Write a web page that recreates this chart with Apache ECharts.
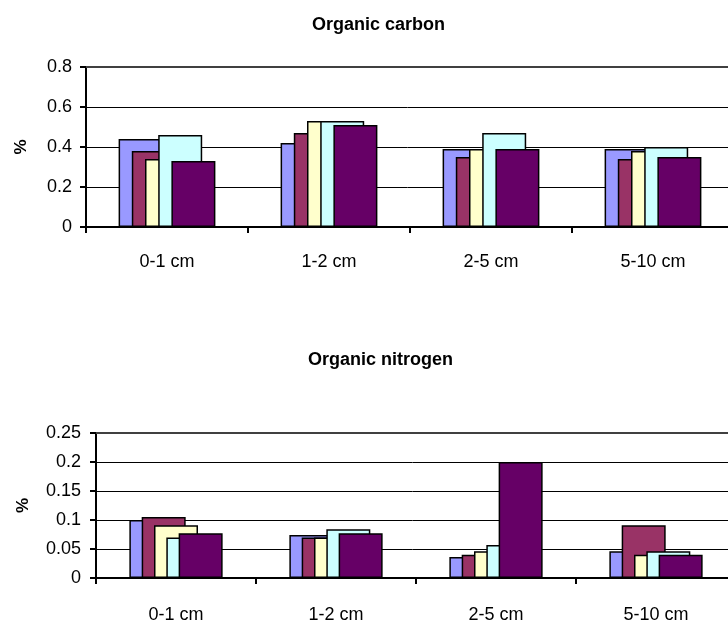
<!DOCTYPE html>
<html>
<head>
<meta charset="utf-8">
<script src="https://cdn.jsdelivr.net/npm/echarts@6/dist/echarts.min.js"></script>
<style>
  html, body { margin: 0; padding: 0; background: #ffffff; }
  #chart { width: 728px; height: 625px; }
</style>
</head>
<body>
<div id="chart"></div>
<script>
// Sediment depth intervals
const depths = ['0-1 cm', '1-2 cm', '2-5 cm', '5-10 cm'];

// Organic carbon (%) per sample, one array per series
const carbonS1 = [0.44, 0.42, 0.39, 0.39];
const carbonS2 = [0.38, 0.47, 0.35, 0.34];
const carbonS3 = [0.34, 0.53, 0.39, 0.38];
const carbonS4 = [0.46, 0.53, 0.47, 0.40];
const carbonS5 = [0.33, 0.51, 0.39, 0.35];

// Organic nitrogen (%) per sample
const nitrogenS1 = [0.100, 0.074, 0.036, 0.046];
const nitrogenS2 = [0.105, 0.070, 0.040, 0.091];
const nitrogenS3 = [0.091, 0.070, 0.046, 0.040];
const nitrogenS4 = [0.070, 0.084, 0.057, 0.046];
const nitrogenS5 = [0.077, 0.077, 0.200, 0.040];

const palette = ['#9999FF', '#993366', '#FFFFCC', '#CCFFFF', '#660066'];
const FONT = '"Liberation Sans", Arial, sans-serif';

function barSeries(values, idx, axisIdx, gap) {
  return {
    type: 'bar',
    xAxisIndex: axisIdx,
    yAxisIndex: axisIdx,
    data: values,
    barWidth: 44,
    barGap: gap,
    itemStyle: { color: palette[idx], borderColor: '#000', borderWidth: 1.5 },
    emphasis: { disabled: true },
    animation: false
  };
}

function catAxis(gridIndex, margin) {
  return {
    type: 'category',
    gridIndex: gridIndex,
    data: depths,
    axisLine: { lineStyle: { color: '#000', width: 2 } },
    axisTick: { show: true, length: 6, lineStyle: { color: '#000', width: 2 } },
    axisLabel: { color: '#000', fontSize: 18, fontFamily: FONT, margin: margin },
    splitLine: { show: false }
  };
}

function frameAxis(gridIndex) {
  // plot-area top border
  return {
    type: 'category',
    gridIndex: gridIndex,
    position: 'top',
    data: depths,
    axisLine: { lineStyle: { color: '#404040', width: 2 } },
    axisTick: { show: false },
    axisLabel: { show: false },
    splitLine: { show: false }
  };
}

function valAxis(gridIndex, max, interval, nameGap, labelMargin) {
  return {
    type: 'value',
    gridIndex: gridIndex,
    min: 0,
    max: max,
    interval: interval,
    name: '%',
    nameLocation: 'middle',
    nameRotate: 90,
    nameGap: nameGap,
    nameTextStyle: { color: '#000', fontSize: 17, fontWeight: 'bold', fontFamily: FONT },
    axisLine: { show: true, lineStyle: { color: '#000', width: 2 } },
    axisTick: { show: true, length: 6, lineStyle: { color: '#000', width: 2 } },
    axisLabel: { color: '#000', fontSize: 18, fontFamily: FONT, margin: labelMargin },
    splitLine: { show: true, lineStyle: { color: '#000', width: 1 } }
  };
}

const chart = echarts.init(document.getElementById('chart'), null, { renderer: 'canvas' });
chart.setOption({
  backgroundColor: '#ffffff',
  animation: false,
  title: [
    { text: 'Organic carbon', left: 307, top: 11,
      textStyle: { color: '#000', fontSize: 18, fontWeight: 'bold', fontFamily: FONT } },
    { text: 'Organic nitrogen', left: 303, top: 346,
      textStyle: { color: '#000', fontSize: 18, fontWeight: 'bold', fontFamily: FONT } }
  ],
  grid: [
    // plot areas run slightly past the right edge of the canvas
    { left: 86, top: 67, width: 648, height: 160, outerBoundsMode: 'none', containLabel: false },
    { left: 96, top: 433, width: 640, height: 145, outerBoundsMode: 'none', containLabel: false }
  ],
  xAxis: [catAxis(0, 26), catAxis(1, 28), frameAxis(0), frameAxis(1)],
  yAxis: [valAxis(0, 0.8, 0.2, 56, 14), valAxis(1, 0.25, 0.05, 64, 15)],
  series: [
    barSeries(carbonS1, 0, 0, '-70%'),
    barSeries(carbonS2, 1, 0, '-70%'),
    barSeries(carbonS3, 2, 0, '-70%'),
    barSeries(carbonS4, 3, 0, '-70%'),
    barSeries(carbonS5, 4, 0, '-70%'),
    barSeries(nitrogenS1, 0, 1, '-72%'),
    barSeries(nitrogenS2, 1, 1, '-72%'),
    barSeries(nitrogenS3, 2, 1, '-72%'),
    barSeries(nitrogenS4, 3, 1, '-72%'),
    barSeries(nitrogenS5, 4, 1, '-72%')
  ]
});
</script>
</body>
</html>
